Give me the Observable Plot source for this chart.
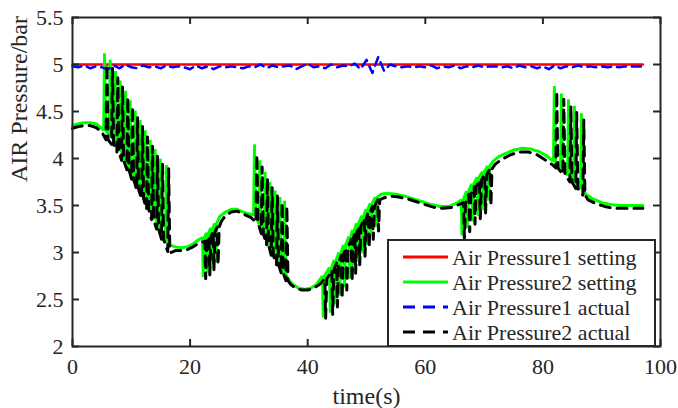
<!DOCTYPE html>
<html><head><meta charset="utf-8">
<script src="https://cdn.jsdelivr.net/npm/d3@7"></script>
<script src="https://cdn.jsdelivr.net/npm/@observablehq/plot@0.6"></script>
<style>
body{margin:0;background:#fff;}
#wrap{position:relative;width:678px;height:408px;overflow:hidden;}
#legend{position:absolute;left:0;top:0;}
</style>
</head><body><div id="wrap"></div>
<script>
// ---------- data ----------
const xTicks = [0, 20, 40, 60, 80, 100];
const yTicks = [2, 2.5, 3, 3.5, 4, 4.5, 5, 5.5];

const seriesNames = ["Air Pressure1 setting", "Air Pressure2 setting", "Air Pressure1 actual", "Air Pressure2 actual"];
const seriesColors = ["#ff0000", "#00ff00", "#0000ff", "#000000"];

// Air Pressure1 setting
const redT = [0, 97];
const redV = [5, 5];

// Air Pressure1 actual (1 s samples from t = 0)
const blueV = [4.98,4.97,4.99,4.96,4.98,4.97,4.95,4.99,4.96,5.00,4.97,4.96,4.99,4.97,4.98,4.96,4.99,4.97,4.98,4.97,
4.95,4.99,4.96,4.98,4.95,4.98,4.97,4.98,4.97,4.96,4.98,4.97,5.00,4.96,4.99,4.97,4.98,4.99,4.95,4.98,
5.01,4.97,4.98,4.96,5.00,4.97,4.99,4.98,5.01,4.95,5.05,4.91,5.08,4.93,5.00,4.98,4.97,4.98,4.97,4.98,
4.97,4.99,4.96,4.98,4.97,4.99,4.96,4.98,4.97,4.99,4.97,4.98,4.98,4.97,4.98,4.96,4.99,4.97,4.98,4.96,
4.98,4.95,4.99,4.96,4.98,4.97,4.99,4.97,4.98,4.97,4.98,4.97,4.98,4.97,4.98,4.98,4.98,4.98];

// Air Pressure2 setting: smooth stretches and pulse trains (time, resting level, spike level)
const gS0 = [[0,4.35],[1,4.37],[2,4.38],[3,4.38],[4,4.37],[4.8,4.33]];
const g1T = [5.3,6.25,7.15,7.95,8.85,9.65,10.5,11.35,12.2,13.05,13.9,14.75,15.8];
const g1Base = [4.30,4.25,4.17,4.08,3.98,3.88,3.77,3.67,3.56,3.45,3.35,3.24,3.11];
const g1Peak = [5.12,5.05,4.93,4.83,4.72,4.62,4.51,4.41,4.30,4.20,4.10,4.00,3.93];
const gS1 = [[16.5,3.08],[17.5,3.06],[18.5,3.05],[19.5,3.06],[20.5,3.09],[21.3,3.13]];
const g2T = [22.1,22.8,23.5,24.2];
const g2Base = [3.16,3.21,3.26,3.31];
const g2Peak = [2.74,2.78,2.84,2.90];
const gS2 = [[25,3.38],[26,3.43],[27,3.46],[28,3.46],[29,3.43],[30.1,3.41]];
const g3T = [30.8,31.7,32.6,33.4,34.3,35.1,35.9];
const g3Base = [3.40,3.30,3.18,3.06,2.95,2.85,2.78];
const g3Peak = [4.15,3.98,3.86,3.75,3.66,3.59,3.55];
const gS3 = [[36.6,2.72],[37.5,2.66],[38.5,2.62],[39.5,2.61],[40.5,2.62],[41.5,2.66]];
const g4T = [42.5,43.7,44.5,45.3,46.1,47.0,47.6,48.3,49.2,49.9,50.6,51.5];
const g4Base = [2.75,2.84,2.92,3.00,3.08,3.17,3.24,3.31,3.39,3.46,3.52,3.59];
const g4Peak = [2.31,2.36,2.45,2.54,2.63,2.72,2.81,2.90,2.99,3.08,3.18,3.27];
const gS4 = [[52.5,3.62],[53.5,3.63],[55,3.62],[56.5,3.60],[58,3.57],[59.5,3.54],[61,3.51],[62.5,3.49],[64,3.49],[65.2,3.52]];
const g5T = [66.1,67.0,67.9,68.8,69.7,70.6];
const g5Base = [3.56,3.65,3.73,3.80,3.86,3.92];
const g5Peak = [3.18,3.26,3.33,3.39,3.45,3.55];
const gS5 = [[71.5,3.97],[72.5,4.02],[73.5,4.05],[75,4.09],[76.5,4.11],[78,4.10],[79.5,4.07],[80.8,4.02]];
const g6T = [81.8,83.0,84.2,85.2,86.4];
const g6Base = [3.97,3.90,3.82,3.75,3.68];
const g6Peak = [4.77,4.69,4.63,4.56,4.48];
const gS6 = [[87.3,3.62],[88.5,3.57],[90,3.53],[91.5,3.51],[93,3.50],[95,3.50],[97,3.50]];

// Air Pressure2 actual
const kS0 = [[0,4.32],[1,4.34],[2,4.35],[3,4.35],[4,4.33],[5,4.28]];
const k1T = [5.7,6.65,7.55,8.35,9.25,10.05,10.9,11.75,12.6,13.45,14.3,15.15,16.2];
const k1Base = [4.20,4.15,4.07,3.98,3.88,3.78,3.67,3.57,3.46,3.35,3.25,3.14,3.01];
const k1Peak = [5.00,4.96,4.86,4.76,4.65,4.55,4.44,4.34,4.23,4.13,4.03,3.94,3.89];
const kS1 = [[16.8,3.00],[17.5,3.02],[18.5,3.02],[19.5,3.03],[20.5,3.06],[21.5,3.10]];
const k2T = [22.5,23.2,23.9,24.6];
const k2Base = [3.12,3.17,3.22,3.27];
const k2Peak = [2.72,2.76,2.81,2.87];
const kS2 = [[25.3,3.33],[26,3.39],[27,3.43],[28,3.44],[29,3.41],[30.4,3.37]];
const k3T = [31.2,32.1,33.0,33.8,34.7,35.5,36.3];
const k3Base = [3.32,3.20,3.08,2.97,2.87,2.78,2.70];
const k3Peak = [4.04,3.91,3.79,3.69,3.60,3.53,3.49];
const kS3 = [[37.1,2.66],[38,2.62],[39,2.60],[40,2.60],[41,2.62],[42,2.66]];
const k4T = [42.9,44.1,44.9,45.7,46.5,47.4,48.0,48.7,49.6,50.3,51.0,51.9];
const k4Base = [2.72,2.81,2.89,2.97,3.05,3.14,3.21,3.28,3.36,3.43,3.49,3.56];
const k4Peak = [2.30,2.34,2.42,2.51,2.60,2.69,2.78,2.87,2.96,3.05,3.14,3.23];
const kS4 = [[52.9,3.58],[54,3.60],[55.5,3.59],[57,3.57],[58.5,3.54],[60,3.51],[61.5,3.48],[63,3.47],[64.5,3.48],[65.7,3.51]];
const k5T = [66.5,67.4,68.3,69.2,70.1,71.0];
const k5Base = [3.53,3.62,3.70,3.77,3.83,3.89];
const k5Peak = [3.15,3.22,3.30,3.36,3.42,3.50];
const kS5 = [[71.9,3.94],[73,3.99],[74.5,4.04],[76,4.07],[77.5,4.07],[79,4.04],[80.5,3.98],[81.7,3.93]];
const k6T = [82.2,83.4,84.6,85.6,86.8];
const k6Base = [3.90,3.83,3.75,3.68,3.61];
const k6Peak = [4.71,4.63,4.56,4.49,4.41];
const kS6 = [[87.7,3.56],[89,3.52],[90.5,3.49],[92,3.47],[93.5,3.47],[95,3.47],[97,3.47]];

// ---------- build tables ----------
function smooth(arr) { return arr.map(([t, v]) => ({t, v})); }
function pulses(ts, base, peak) {
  const out = [];
  ts.forEach((t, i) => { out.push({t, v: base[i]}, {t: t + 0.15, v: peak[i]}, {t: t + 0.35, v: base[i]}); });
  return out;
}
const byT = (a, b) => a.t - b.t;
const redData = redT.map((t, i) => ({t, v: redV[i]}));
const blueData = blueV.map((v, i) => ({t: i, v}));
const greenData = [
  ...smooth(gS0), ...pulses(g1T, g1Base, g1Peak), ...smooth(gS1), ...pulses(g2T, g2Base, g2Peak),
  ...smooth(gS2), ...pulses(g3T, g3Base, g3Peak), ...smooth(gS3), ...pulses(g4T, g4Base, g4Peak),
  ...smooth(gS4), ...pulses(g5T, g5Base, g5Peak), ...smooth(gS5), ...pulses(g6T, g6Base, g6Peak), ...smooth(gS6)
].sort(byT);
const blackData = [
  ...smooth(kS0), ...pulses(k1T, k1Base, k1Peak), ...smooth(kS1), ...pulses(k2T, k2Base, k2Peak),
  ...smooth(kS2), ...pulses(k3T, k3Base, k3Peak), ...smooth(kS3), ...pulses(k4T, k4Base, k4Peak),
  ...smooth(kS4), ...pulses(k5T, k5Base, k5Peak), ...smooth(kS5), ...pulses(k6T, k6Base, k6Peak), ...smooth(kS6)
].sort(byT);

const W = 678, H = 408, mL = 72, mR = 18, mT = 17, mB = 62;
const fw = W - mL - mR, fh = H - mT - mB, tk = 7;
const axisColor = "#262626";

const chart = Plot.plot({
  width: W, height: H,
  marginLeft: mL, marginRight: mR, marginTop: mT, marginBottom: mB,
  style: {fontFamily: "'Liberation Serif', 'Times New Roman', serif", fontSize: "22px", color: axisColor, background: "#fff"},
  x: {domain: [0, 100], axis: null},
  y: {domain: [2, 5.5], axis: null},
  marks: [
    Plot.line(redData, {x: "t", y: "v", stroke: seriesColors[0], strokeWidth: 2.5}),
    Plot.line(greenData, {x: "t", y: "v", stroke: seriesColors[1], strokeWidth: 3, strokeLinejoin: "miter"}),
    Plot.line(blueData, {x: "t", y: "v", stroke: seriesColors[2], strokeWidth: 2.5, strokeDasharray: "9,6"}),
    Plot.line(blackData, {x: "t", y: "v", stroke: seriesColors[3], strokeWidth: 3, strokeDasharray: "10,7"}),
    Plot.frame({stroke: axisColor, strokeWidth: 2}),
    Plot.tickX(xTicks, {x: d => d, insetTop: fh - tk, stroke: axisColor, strokeWidth: 2}),
    Plot.tickX(xTicks, {x: d => d, insetBottom: fh - tk, stroke: axisColor, strokeWidth: 2}),
    Plot.tickY(yTicks, {y: d => d, insetRight: fw - tk, stroke: axisColor, strokeWidth: 2}),
    Plot.tickY(yTicks, {y: d => d, insetLeft: fw - tk, stroke: axisColor, strokeWidth: 2}),
    Plot.text(xTicks, {x: d => d, frameAnchor: "bottom", text: d => String(d), lineAnchor: "top", dy: 12, fill: axisColor, fontSize: 22}),
    Plot.text(yTicks, {y: d => d, frameAnchor: "left", text: d => String(d), textAnchor: "end", dx: -9, fill: axisColor, fontSize: 22}),
    Plot.text(["time(s)"], {frameAnchor: "bottom", lineAnchor: "bottom", dy: 57, fill: axisColor, fontSize: 24}),
    Plot.text(["AIR Pressure/bar"], {frameAnchor: "left", rotate: -90, dx: -53, fill: axisColor, fontSize: 24})
  ]
});
const wrap = document.getElementById("wrap");
wrap.appendChild(chart);

// ---------- legend ----------
const lg = d3.select(wrap).append("svg").attr("id", "legend").attr("width", W).attr("height", H);
const box = {x: 388, y: 240, w: 267, h: 106};
lg.append("rect").attr("x", box.x).attr("y", box.y).attr("width", box.w).attr("height", box.h)
  .attr("fill", "#fff").attr("stroke", axisColor).attr("stroke-width", 2);
const rowY = i => box.y + 17 + i * 25;
const dashes = [null, null, "12,8", "12,8"];
seriesNames.forEach((name, i) => {
  lg.append("line").attr("x1", box.x + 15).attr("x2", box.x + 60).attr("y1", rowY(i)).attr("y2", rowY(i))
    .attr("stroke", seriesColors[i]).attr("stroke-width", 3).attr("stroke-dasharray", dashes[i]);
  lg.append("text").attr("x", box.x + 64).attr("y", rowY(i)).attr("dy", "0.35em")
    .attr("font-family", "'Liberation Serif', serif").attr("font-size", 22).attr("fill", axisColor).text(name);
});
</script>
</body></html>
